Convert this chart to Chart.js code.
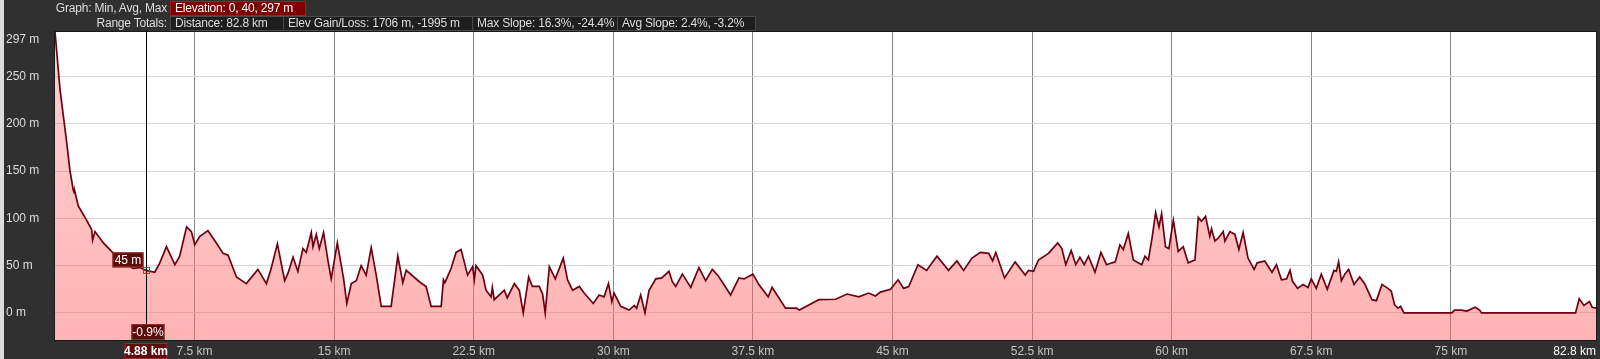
<!DOCTYPE html>
<html>
<head>
<meta charset="utf-8">
<script src="https://cdn.jsdelivr.net/npm/chart.js@4"></script>
<style>
  body { margin: 0; background: #303030; font-family: "Liberation Sans Narrow", "Liberation Sans", sans-serif; font-size: 12px; color: #ddd; }
  #wrap { position: relative; width: 1600px; height: 359px; overflow: hidden; }
  #strip { position: absolute; left: 0; top: 0; width: 4px; height: 359px; background: #dcdcdc; }
  canvas { position: absolute; left: 0; top: 0; }
  .lbl { position: absolute; left: 0; width: 167px; text-align: right; height: 15px; line-height: 15px; color: #ddd; letter-spacing: -0.2px; }
  .box { position: absolute; height: 15px; line-height: 13px; padding-left: 4px; box-sizing: border-box; border: 1px solid #4a4a4a; background: #1e1e1e; color: #ddd; white-space: nowrap; letter-spacing: -0.2px; overflow: hidden; }
  .box.red { background: #7d0000; border-color: #a02020; color: #fff; }
</style>
</head>
<body>
<div id="wrap">
  <canvas id="chart" width="1600" height="359"></canvas>
  <div id="strip"></div>
  <div class="lbl" style="top:1px">Graph: Min, Avg, Max</div>
  <div class="box red" style="left:170px;top:1px;width:136px">Elevation: 0, 40, 297 m</div>
  <div class="lbl" style="top:16px">Range Totals:</div>
  <div class="box" style="left:170px;top:16px;width:114px">Distance: 82.8 km</div>
  <div class="box" style="left:283px;top:16px;width:190px">Elev Gain/Loss: 1706 m, -1995 m</div>
  <div class="box" style="left:472px;top:16px;width:146px">Max Slope: 16.3%, -24.4%</div>
  <div class="box" style="left:617px;top:16px;width:139px">Avg Slope: 2.4%, -3.2%</div>
</div>
<script>
// profile: distance (km) and elevation (m)
const distKm = [
  0, 0.27, 0.45, 0.63, 0.8, 0.98, 1.03, 1.07, 1.25, 1.7, 1.97, 2.02, 2.15, 2.6, 3.04, 3.49, 4.2, 4.56, 4.88, 5.36,
  5.63, 5.99, 6.44, 6.7, 7.07, 7.33, 7.51, 7.78, 8.22, 8.67, 9.03, 9.3, 9.75, 10.28, 10.9, 11.36, 11.6, 11.95, 12.34, 12.52,
  12.79, 13.05, 13.32, 13.5, 13.77, 13.86, 14.04, 14.2, 14.43, 14.66, 14.84, 15.17, 15.5, 15.68, 15.92, 16.19, 16.45, 16.72, 16.99, 17.26,
  17.53, 18.06, 18.42, 18.69, 18.87, 19.58, 19.94, 20.21, 20.75, 20.87, 20.95, 21.28, 21.55, 21.82, 22.17, 22.44, 22.53, 22.62, 22.98, 23.16,
  23.43, 23.5, 23.6, 24.14, 24.3, 24.68, 24.95, 25.16, 25.45, 25.65, 26.02, 26.2, 26.34, 26.56, 26.88, 27.31, 27.54, 27.81, 28.17, 28.43,
  28.92, 29.24, 29.5, 29.74, 29.92, 30.04, 30.4, 30.85, 31.12, 31.25, 31.47, 31.7, 31.92, 32.28, 32.6, 32.99, 33.17, 33.35, 33.71, 34.16,
  34.6, 34.96, 35.32, 35.64, 35.94, 36.3, 36.75, 37.02, 37.5, 37.82, 38.32, 38.53, 39.25, 39.84, 40.0, 40.5, 41.04, 41.94, 42.56, 43.19,
  43.72, 44.08, 44.35, 44.89, 45.3, 45.6, 45.87, 46.37, 46.83, 47.39, 48.01, 48.46, 48.82, 49.27, 49.72, 50.17, 50.38, 50.55, 51.02, 51.59,
  52.13, 52.31, 52.58, 52.84, 53.38, 53.88, 54.1, 54.31, 54.6, 54.85, 55.07, 55.3, 55.53, 55.88, 56.2, 56.5, 56.79, 56.97, 57.22, 57.4,
  57.67, 57.94, 58.39, 58.57, 58.75, 58.96, 59.14, 59.32, 59.46, 59.67, 59.85, 60.09, 60.35, 60.62, 60.89, 61.25, 61.43, 61.6, 61.82, 62.05,
  62.14, 62.32, 62.5, 62.77, 62.86, 63.13, 63.4, 63.61, 63.84, 64.1, 64.43, 64.6, 65.0, 65.39, 65.63, 65.9, 66.17, 66.36, 66.48, 66.76,
  67.06, 67.33, 67.5, 67.77, 68.04, 68.36, 68.72, 68.85, 68.97, 69.12, 69.3, 69.51, 69.8, 70.1, 70.37, 70.76, 71.0, 71.3, 71.62, 71.8,
  71.98, 72.16, 72.3, 72.48, 75.05, 75.2, 75.55, 75.87, 76.3, 76.55, 76.65, 81.7, 81.9, 82.15, 82.45, 82.6, 82.8
];
const elevM = [
  297, 236, 208, 180, 151, 130, 127, 128, 113, 98, 88, 77, 86, 74, 65, 56, 47, 48, 45, 43,
  53, 70, 51, 60, 91, 86, 72, 81, 87, 74, 63, 61, 38, 31, 46, 31, 46, 73, 34, 42,
  59, 44, 68, 64, 85, 70, 83, 68, 85, 56, 36, 74, 37, 10, 31, 34, 50, 40, 69, 40,
  7, 7, 60, 32, 45, 33, 28, 7, 7, 35, 32, 47, 64, 67, 40, 49, 35, 50, 40, 24,
  17, 27, 14, 24, 16, 31, 24, 0, 38, 28, 28, 20, 0, 49, 36, 58, 35, 24, 28, 21,
  10, 19, 17, 31, 12, 21, 7, 3, 8, 5, 19, 0, 24, 36, 37, 44, 33, 28, 41, 27,
  48, 34, 46, 39, 30, 19, 37, 36, 41, 30, 17, 27, 5, 5, 3, 8.5, 14, 14.5, 20, 17,
  21, 18, 22, 25, 35, 26, 28, 51, 45, 60, 45, 55, 45, 58, 64, 63, 55, 64, 37, 54,
  40, 45, 44, 56, 63, 74, 68, 51, 66, 51, 59, 51, 60, 43, 64, 51, 53, 54, 72, 67,
  84, 56, 51, 60, 56, 81, 106, 91, 105, 70, 68, 98, 65, 70, 53, 56, 101, 97, 102, 81,
  89, 76, 79, 86, 76, 86, 83, 67, 85, 58, 46, 53, 55, 43, 51, 35, 36, 45, 34, 26,
  30, 27, 36, 26, 41, 25, 45, 44, 54, 34, 41, 46, 30, 38, 31, 14, 13, 30, 26, 23,
  8.5, 5, 7, 0, 0, 3, 3, 2, 6, 3, 0, 0, 15, 8, 12, 6, 5
];
const xTicks = [0, 7.5, 15, 22.5, 30, 37.5, 45, 52.5, 60, 67.5, 75, 82.8];
const yTicks = [0, 50, 100, 150, 200, 250, 297];

// cursor readout shown in the picture
const cursorKm = 4.88;
const cursorElev = 45;
const cursorSlope = '-0.9%';

const FONT = '"Liberation Sans Narrow", "Liberation Sans", sans-serif';

const points = distKm.map((d, i) => ({ x: d, y: elevM[i] }));

function drawBox(ctx, text, x, y, w, h, bold) {
  ctx.fillStyle = '#5e0b0b';
  ctx.fillRect(x, y, w, h);
  ctx.strokeStyle = '#9a2a2a';
  ctx.lineWidth = 1;
  ctx.strokeRect(x + 0.5, y + 0.5, w - 1, h - 1);
  ctx.fillStyle = '#fff';
  ctx.font = (bold ? 'bold ' : '') + '12px ' + FONT;
  ctx.textAlign = 'center';
  ctx.textBaseline = 'middle';
  ctx.fillText(text, x + w / 2, y + h / 2 + 1);
}

const plotFrame = {
  id: 'plotFrame',
  beforeDraw(chart) {
    const a = chart.chartArea;
    chart.ctx.save();
    chart.ctx.fillStyle = '#fff';
    chart.ctx.fillRect(a.left, a.top, a.right - a.left, a.bottom - a.top);
    chart.ctx.restore();
  },
  afterDraw(chart) {
    const { ctx, chartArea: a, scales } = chart;
    ctx.save();
    ctx.strokeStyle = '#1a1a1a';
    ctx.lineWidth = 1;
    ctx.strokeRect(a.left - 0.5, a.top - 0.5, a.right - a.left + 1, a.bottom - a.top + 1);

    // cursor line and readouts
    const px = Math.round(scales.x.getPixelForValue(cursorKm)) + 0.5;
    const py = scales.y.getPixelForValue(cursorElev);
    ctx.strokeStyle = '#000';
    ctx.beginPath();
    ctx.moveTo(px, a.top);
    ctx.lineTo(px, a.bottom);
    ctx.stroke();
    ctx.strokeStyle = '#e02020';
    ctx.strokeRect(px - 3, py - 3, 6, 6);
    drawBox(ctx, cursorElev + ' m', px - 34, py - 18, 31, 15, false);
    drawBox(ctx, cursorSlope, px - 15, a.bottom - 16, 33, 16, false);
    drawBox(ctx, cursorKm + ' km', px - 22, a.bottom + 3, 43, 16, true);
    ctx.restore();
  }
};

new Chart(document.getElementById('chart'), {
  type: 'line',
  data: {
    datasets: [{
      data: points,
      borderColor: '#6d0012',
      borderWidth: 1.7,
      pointRadius: 0,
      tension: 0,
      fill: 'start',
      backgroundColor: (c) => {
        const a = c.chart.chartArea;
        if (!a) return 'rgba(255,110,110,0.45)';
        const g = c.chart.ctx.createLinearGradient(0, a.top, 0, a.bottom);
        g.addColorStop(0, 'rgba(255,110,110,0.30)');
        g.addColorStop(1, 'rgba(255,110,110,0.52)');
        return g;
      }
    }]
  },
  options: {
    responsive: false,
    animation: false,
    layout: { padding: { top: 32, right: 3, left: 6, bottom: 0 } },
    plugins: { legend: { display: false }, tooltip: { enabled: false } },
    scales: {
      x: {
        type: 'linear',
        min: 0,
        max: 82.8,
        afterBuildTicks: (s) => { s.ticks = xTicks.map(v => ({ value: v })); },
        afterFit: (s) => { s.height = 19; },
        border: { display: false },
        grid: {
          drawTicks: false,
          color: (c) => c.tick && c.tick.value === 0 ? 'transparent' : '#858585'
        },
        ticks: {
          autoSkip: false,
          maxRotation: 0,
          align: 'inner',
          padding: 4,
          font: { family: FONT, size: 12 },
          color: (c) => c.tick && c.tick.value === 82.8 ? '#fff' : '#c4c4c4',
          callback: (v) => v === 0 ? '' : v + ' km'
        }
      },
      y: {
        min: -28.6,
        max: 297,
        afterBuildTicks: (s) => { s.ticks = yTicks.map(v => ({ value: v })); },
        afterFit: (s) => { s.width = 49; },
        border: { display: false },
        grid: {
          drawTicks: false,
          color: (c) => c.tick && c.tick.value === 297 ? 'transparent' : '#d6d6d6'
        },
        ticks: {
          crossAlign: 'far',
          padding: 4,
          font: { family: FONT, size: 12 },
          color: '#ddd',
          callback: (v) => v === 297 ? ['', '297 m'] : v + ' m'
        }
      }
    }
  },
  plugins: [plotFrame]
});
</script>
</body>
</html>
